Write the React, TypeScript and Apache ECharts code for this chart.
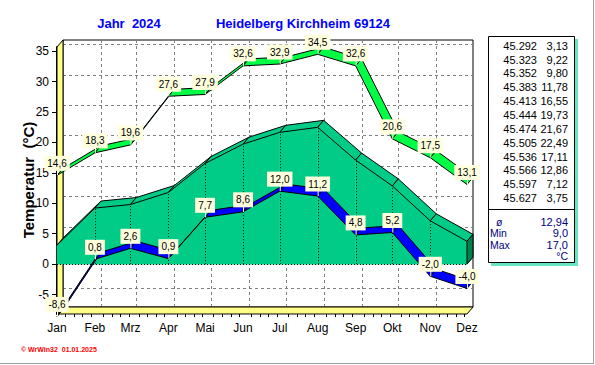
import React, { useEffect, useRef } from 'react';
import * as echarts from 'echarts';

// ---------- data ----------
const months = ['Jan', 'Feb', 'Mrz', 'Apr', 'Mai', 'Jun', 'Jul', 'Aug', 'Sep', 'Okt', 'Nov', 'Dez'];
const monthDays = [0, 31, 60, 91, 121, 152, 182, 213, 244, 274, 305, 335];
const minTemp = [-8.6, 0.8, 2.6, 0.9, 7.7, 8.6, 12.0, 11.2, 4.8, 5.2, -2.0, -4.0];
const maxTemp = [14.6, 18.3, 19.6, 27.6, 27.9, 32.6, 32.9, 34.5, 32.6, 20.6, 17.5, 13.1];
const meanTemp = [3.13, 9.22, 9.8, 11.78, 16.55, 19.73, 21.67, 22.49, 17.11, 12.86, 7.12, 3.75];
const dateSerials = ['45.292', '45.323', '45.352', '45.383', '45.413', '45.444', '45.474', '45.505', '45.536', '45.566', '45.597', '45.627'];
const yTicks = [-5, 0, 5, 10, 15, 20, 25, 30, 35];
const minorOffsets = [7, 14, 21, 28];
const summaryLabels = ['ø', 'Min', 'Max'];
const summaryValues = ['12,94', '9,0', '17,0'];
const unitLabel = '°C';
const titleLeft = 'Jahr  2024';
const titleRight = 'Heidelberg Kirchheim 69124';
const yTitle = 'Temperatur  (°C)';
const footer = '© WrWin32  01.01.2025';

const Y_MIN = -8.2;
const Y_MAX = 35.7;
const X_MIN = 0;
const X_MAX = 335;
const DX = 6;
const DY = -7;

const fmt = (v: number, d: number) => v.toFixed(d).replace('.', ',');

const minorTicks: number[] = [];
monthDays.forEach((m, i) => {
  const next = i < monthDays.length - 1 ? monthDays[i + 1] : X_MAX;
  minorOffsets.forEach((o) => {
    if (m + o < next) minorTicks.push(m + o);
  });
});

const TEAL = '#00cc88';
const TEAL_DARK = '#00804c';
const GREEN = '#00ff44';
const BLUE = '#0000ff';
const YELLOW = '#ffff88';
const LABEL_BG = '#ffffdd';

function ribbonRender(values: number[], color: string) {
  return (params: any, api: any) => {
    const i = params.dataIndex;
    if (i >= values.length - 1) return { type: 'group', children: [] };
    const a = api.coord([monthDays[i], values[i]]);
    const b = api.coord([monthDays[i + 1], values[i + 1]]);
    return {
      type: 'polygon',
      shape: { points: [a, b, [b[0] + DX, b[1] + DY], [a[0] + DX, a[1] + DY]] },
      style: { fill: color, stroke: '#000', lineWidth: 1 },
    };
  };
}

function labelRender(values: number[]) {
  return (params: any, api: any) => {
    const i = params.dataIndex;
    const p = api.coord([monthDays[i], values[i]]);
    const ly = p[1] - 12;
    return {
      type: 'group',
      children: [
        {
          type: 'line',
          shape: { x1: p[0] + 0.5, y1: ly + 6, x2: p[0] + 0.5, y2: p[1] },
          style: { stroke: LABEL_BG, lineWidth: 1 },
        },
        {
          type: 'text',
          x: p[0],
          y: ly,
          style: {
            text: fmt(values[i], 1),
            fill: '#000',
            font: '10px "Liberation Sans", Arial, sans-serif',
            align: 'center',
            verticalAlign: 'middle',
            backgroundColor: LABEL_BG,
            padding: [3, 3, 2, 3],
          },
        },
      ],
    };
  };
}

export default function App() {
  const ref = useRef<HTMLDivElement>(null);

  useEffect(() => {
    document.body.style.margin = '0';
    if (!ref.current) return;
    const chart = echarts.init(ref.current, null, { renderer: 'svg' });

    const frameRender = (params: any, api: any) => {
      const f = (x: number, y: number) => api.coord([x, y]);
      const b = (x: number, y: number) => {
        const p = api.coord([x, y]);
        return [p[0] + DX, p[1] + DY];
      };
      const children: any[] = [];
      children.push({
        type: 'polygon',
        shape: { points: [b(X_MIN, Y_MAX), b(X_MAX, Y_MAX), b(X_MAX, Y_MIN), b(X_MIN, Y_MIN)] },
        style: { fill: '#fff', stroke: '#000', lineWidth: 1 },
      });
      yTicks.forEach((v) => {
        const p1 = b(X_MIN, v);
        const p2 = b(X_MAX, v);
        children.push({
          type: 'line',
          shape: { x1: p1[0], y1: Math.round(p1[1]) + 0.5, x2: p2[0], y2: Math.round(p2[1]) + 0.5 },
          style: { stroke: '#808080', lineWidth: 1, lineDash: [3, 3] },
        });
      });
      monthDays.slice(1, -1).forEach((d) => {
        const p1 = b(d, Y_MIN);
        const p2 = b(d, Y_MAX);
        children.push({
          type: 'line',
          shape: { x1: Math.round(p1[0]) + 0.5, y1: p1[1], x2: Math.round(p2[0]) + 0.5, y2: p2[1] },
          style: { stroke: '#808080', lineWidth: 1, lineDash: [3, 3] },
        });
      });
      children.push({
        type: 'polygon',
        shape: { points: [f(X_MIN, Y_MAX), b(X_MIN, Y_MAX), b(X_MIN, Y_MIN), f(X_MIN, Y_MIN)] },
        style: { fill: YELLOW, stroke: '#000', lineWidth: 1 },
      });
      children.push({
        type: 'polygon',
        shape: { points: [f(X_MIN, Y_MIN), f(X_MAX, Y_MIN), b(X_MAX, Y_MIN), b(X_MIN, Y_MIN)] },
        style: { fill: YELLOW, stroke: '#000', lineWidth: 1 },
      });
      return { type: 'group', children };
    };

    const areaRender = (params: any, api: any) => {
      const i = params.dataIndex;
      const children: any[] = [];
      const n = meanTemp.length;
      if (i < n - 1) {
        const a = api.coord([monthDays[i], meanTemp[i]]);
        const b = api.coord([monthDays[i + 1], meanTemp[i + 1]]);
        const za = api.coord([monthDays[i], 0]);
        const zb = api.coord([monthDays[i + 1], 0]);
        children.push({
          type: 'polygon',
          shape: { points: [a, b, zb, za] },
          style: { fill: TEAL, stroke: TEAL, lineWidth: 0.5 },
        });
        children.push({
          type: 'polygon',
          shape: { points: [a, b, [b[0] + DX, b[1] + DY], [a[0] + DX, a[1] + DY]] },
          style: { fill: TEAL, stroke: '#000', lineWidth: 1 },
        });
        if (i > 0) {
          children.push({
            type: 'line',
            shape: { x1: Math.round(a[0]) + 0.5, y1: za[1], x2: Math.round(a[0]) + 0.5, y2: a[1] },
            style: { stroke: '#000', lineWidth: 1, lineDash: [1, 2] },
          });
        }
      } else {
        const a = api.coord([monthDays[i], meanTemp[i]]);
        const za = api.coord([monthDays[i], 0]);
        children.push({
          type: 'polygon',
          shape: { points: [a, [a[0] + DX, a[1] + DY], [za[0] + DX, za[1] + DY], za] },
          style: { fill: TEAL_DARK, stroke: '#000', lineWidth: 1 },
        });
        const z0 = api.coord([monthDays[0], 0]);
        children.push({
          type: 'line',
          shape: { x1: z0[0], y1: Math.round(z0[1]) + 0.5, x2: za[0], y2: Math.round(za[1]) + 0.5 },
          style: { stroke: '#000', lineWidth: 1, lineDash: [1, 2] },
        });
      }
      return { type: 'group', children };
    };

    const pts = (vals: number[]) => vals.map((v, i) => [monthDays[i], v]);

    const font = '"Liberation Sans", Arial, sans-serif';
    const tableChildren: any[] = [];
    tableChildren.push({ type: 'rect', shape: { x: 491, y: 39, width: 87, height: 227 }, style: { fill: '#66e6c2' }, z: 10 });
    tableChildren.push({ type: 'rect', shape: { x: 488.5, y: 36.5, width: 86, height: 226 }, style: { fill: '#fff', stroke: '#000', lineWidth: 1 }, z: 11 });
    tableChildren.push({ type: 'line', shape: { x1: 488.5, y1: 209.5, x2: 574.5, y2: 209.5 }, style: { stroke: '#000', lineWidth: 1 }, z: 12 });
    dateSerials.forEach((d, i) => {
      const y = 45.7 + 13.85 * i;
      tableChildren.push({ type: 'text', x: 537, y, style: { text: d, fill: '#000', font: `11px ${font}`, align: 'right', verticalAlign: 'middle' }, z: 12 });
      tableChildren.push({ type: 'text', x: 568, y, style: { text: fmt(meanTemp[i], 2), fill: '#000', font: `11px ${font}`, align: 'right', verticalAlign: 'middle' }, z: 12 });
    });
    summaryLabels.forEach((s, i) => {
      const y = 222 + 11.3 * i;
      tableChildren.push({ type: 'text', x: i === 0 ? 496 : 490, y, style: { text: s, fill: '#000080', font: `10.5px ${font}`, align: 'left', verticalAlign: 'middle' }, z: 12 });
      tableChildren.push({ type: 'text', x: 568, y, style: { text: summaryValues[i], fill: '#000080', font: `11px ${font}`, align: 'right', verticalAlign: 'middle' }, z: 12 });
    });
    tableChildren.push({ type: 'text', x: 568, y: 256, style: { text: unitLabel, fill: '#000080', font: `10.5px ${font}`, align: 'right', verticalAlign: 'middle' }, z: 12 });

    chart.setOption({
      animation: false,
      backgroundColor: '#fff',
      grid: { left: 57, right: 128, top: 47, bottom: 51 },
      xAxis: [
        {
          type: 'value',
          min: X_MIN,
          max: X_MAX,
          axisLine: { show: true, lineStyle: { color: '#000', width: 2 } },
          axisTick: { show: true, customValues: monthDays, length: 4, lineStyle: { color: '#000' } },
          axisLabel: {
            customValues: monthDays,
            formatter: (v: number) => months[monthDays.indexOf(v)] ?? '',
            color: '#000',
            fontSize: 12,
            fontFamily: font,
            margin: 8,
          },
          splitLine: { show: false },
        },
        {
          type: 'value',
          min: X_MIN,
          max: X_MAX,
          position: 'bottom',
          axisLine: { show: false },
          axisTick: { show: true, customValues: minorTicks, length: 3, lineStyle: { color: '#000' } },
          axisLabel: { show: false },
          splitLine: { show: false },
        },
      ],
      yAxis: {
        type: 'value',
        min: Y_MIN,
        max: Y_MAX,
        axisLine: { show: true, lineStyle: { color: '#000', width: 2 } },
        axisTick: { show: true, customValues: yTicks, length: 5, lineStyle: { color: '#000' } },
        axisLabel: { customValues: yTicks, color: '#000', fontSize: 12, fontFamily: font, margin: 8 },
        splitLine: { show: false },
      },
      graphic: [
        { type: 'text', x: 129, y: 23, style: { text: titleLeft, fill: '#0000ff', font: `bold 13px ${font}`, align: 'center', verticalAlign: 'middle' } },
        { type: 'text', x: 303, y: 23, style: { text: titleRight, fill: '#0000ff', font: `bold 13px ${font}`, align: 'center', verticalAlign: 'middle' } },
        { type: 'text', x: 28, y: 180, rotation: Math.PI / 2, style: { text: yTitle, fill: '#000', font: `bold 15px ${font}`, align: 'center', verticalAlign: 'middle' } },
        { type: 'text', x: 21, y: 349, style: { text: footer, fill: '#ff0000', font: `bold 7px ${font}`, align: 'left', verticalAlign: 'middle' } },
        { type: 'line', shape: { x1: 593.5, y1: 0, x2: 593.5, y2: 364 }, style: { stroke: '#a0a0a0', lineWidth: 1 } },
        { type: 'line', shape: { x1: 0, y1: 363.5, x2: 594, y2: 363.5 }, style: { stroke: '#a0a0a0', lineWidth: 1 } },
        { type: 'group', children: tableChildren },
      ],
      series: [
        { type: 'custom', name: 'frame', z: 1, data: [[0, 0]], renderItem: frameRender, silent: true },
        { type: 'custom', name: 'Mittel', z: 2, data: pts(meanTemp), renderItem: areaRender, silent: true },
        { type: 'custom', name: 'Min', z: 3, data: pts(minTemp), renderItem: ribbonRender(minTemp, BLUE), silent: true },
        { type: 'custom', name: 'Max', z: 4, data: pts(maxTemp), renderItem: ribbonRender(maxTemp, GREEN), silent: true },
        { type: 'custom', name: 'MinLabel', z: 5, data: pts(minTemp), renderItem: labelRender(minTemp), silent: true },
        { type: 'custom', name: 'MaxLabel', z: 5, data: pts(maxTemp), renderItem: labelRender(maxTemp), silent: true },
      ],
    });

    return () => chart.dispose();
  }, []);

  return <div ref={ref} style={{ width: 595, height: 365 }} />;
}
